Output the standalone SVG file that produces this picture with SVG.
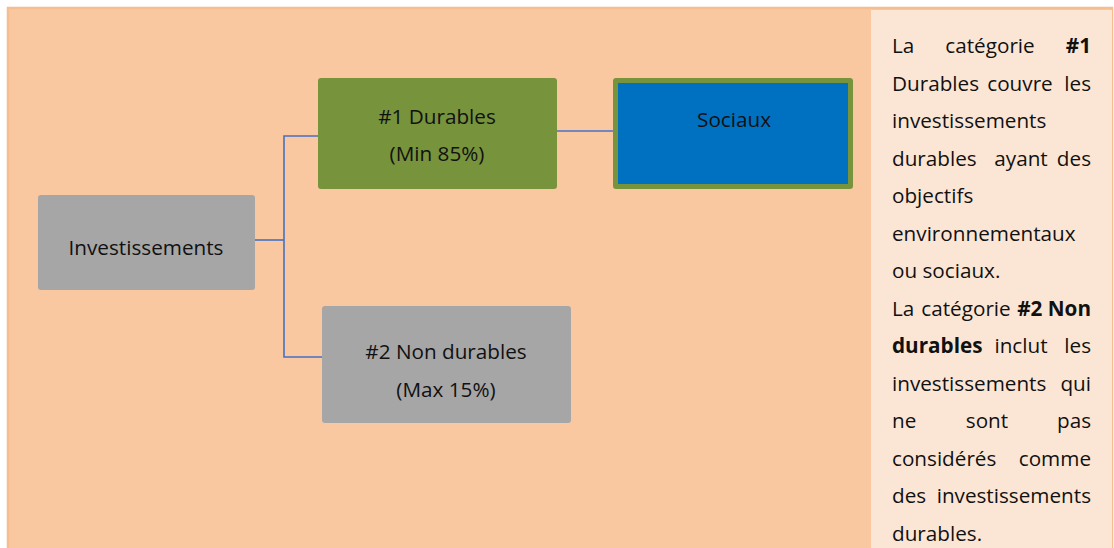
<svg xmlns="http://www.w3.org/2000/svg" width="1114" height="548" viewBox="0 0 1114 548">
<style>
text{font-family:"Open Sans","Noto Sans","Liberation Sans",sans-serif;fill:#111;}
.n{font-size:20.7px;text-anchor:middle;}
.p{font-size:20.7px;}
.b{font-weight:bold;}
.e{text-anchor:end;}
.m{text-anchor:middle;}
.c{fill:none;stroke:#4472C4;stroke-width:1.6;}
</style>
<rect x="0" y="0" width="1114" height="548" fill="#FFFFFF"/>
<rect x="8" y="8" width="1104" height="542" fill="#F9C8A0" stroke="#F6BD8F" stroke-width="2.5"/>
<rect x="871" y="10" width="241" height="538" fill="#FBE6D5"/>
<g id="connectors">
<polyline class="c" points="255,240 284,240"/>
<polyline class="c" points="318,136 284,136 284,357 322,357"/>
<polyline class="c" points="557,131 613,131"/>
</g>
<g id="investissements">
<rect x="38" y="195" width="217" height="95" rx="3" fill="#A6A6A6"/>
<text class="n" x="146" y="255">Investissements</text>
</g>
<g id="durables">
<rect x="318" y="78" width="239" height="111" rx="3" fill="#77933C"/>
<text class="n" x="437" y="124">#1 Durables</text>
<text class="n" x="437" y="161">(Min 85%)</text>
</g>
<g id="sociaux">
<rect x="613" y="78" width="240" height="111" rx="3" fill="#77933C"/>
<rect x="618" y="83" width="230" height="101" fill="#0070C0"/>
<text class="n" x="734" y="127">Sociaux</text>
</g>
<g id="non-durables">
<rect x="322" y="306" width="249" height="117" rx="3" fill="#A6A6A6"/>
<text class="n" x="446" y="359">#2 Non durables</text>
<text class="n" x="446" y="397">(Max 15%)</text>
</g>
<g id="panel-text">
<text class="p" x="892" y="53">La</text>
<text class="p m" x="990" y="53">catégorie</text>
<text class="p b e" x="1091" y="53">#1</text>
<text class="p" x="892" y="90.5">Durables</text>
<text class="p m" x="1020" y="90.5">couvre</text>
<text class="p e" x="1091" y="90.5">les</text>
<text class="p" x="892" y="128">investissements</text>
<text class="p" x="892" y="165.5">durables</text>
<text class="p m" x="1021" y="165.5">ayant</text>
<text class="p e" x="1091" y="165.5">des</text>
<text class="p" x="892" y="203">objectifs</text>
<text class="p" x="892" y="240.5">environnementaux</text>
<text class="p" x="892" y="278">ou sociaux.</text>
<text class="p" x="892" y="315.5">La</text>
<text class="p m" x="966" y="315.5">catégorie</text>
<text class="p b e" x="1091" y="315.5">#2 Non</text>
<text class="p b" x="892" y="353">durables</text>
<text class="p m" x="1021" y="353">inclut</text>
<text class="p e" x="1091" y="353">les</text>
<text class="p" x="892" y="390.5">investissements</text>
<text class="p e" x="1091" y="390.5">qui</text>
<text class="p" x="892" y="428">ne</text>
<text class="p m" x="987" y="428">sont</text>
<text class="p e" x="1091" y="428">pas</text>
<text class="p" x="892" y="465.5">considérés</text>
<text class="p e" x="1091" y="465.5">comme</text>
<text class="p" x="892" y="503">des</text>
<text class="p e" x="1091" y="503">investissements</text>
<text class="p" x="892" y="540.5">durables.</text>
</g>
</svg>
